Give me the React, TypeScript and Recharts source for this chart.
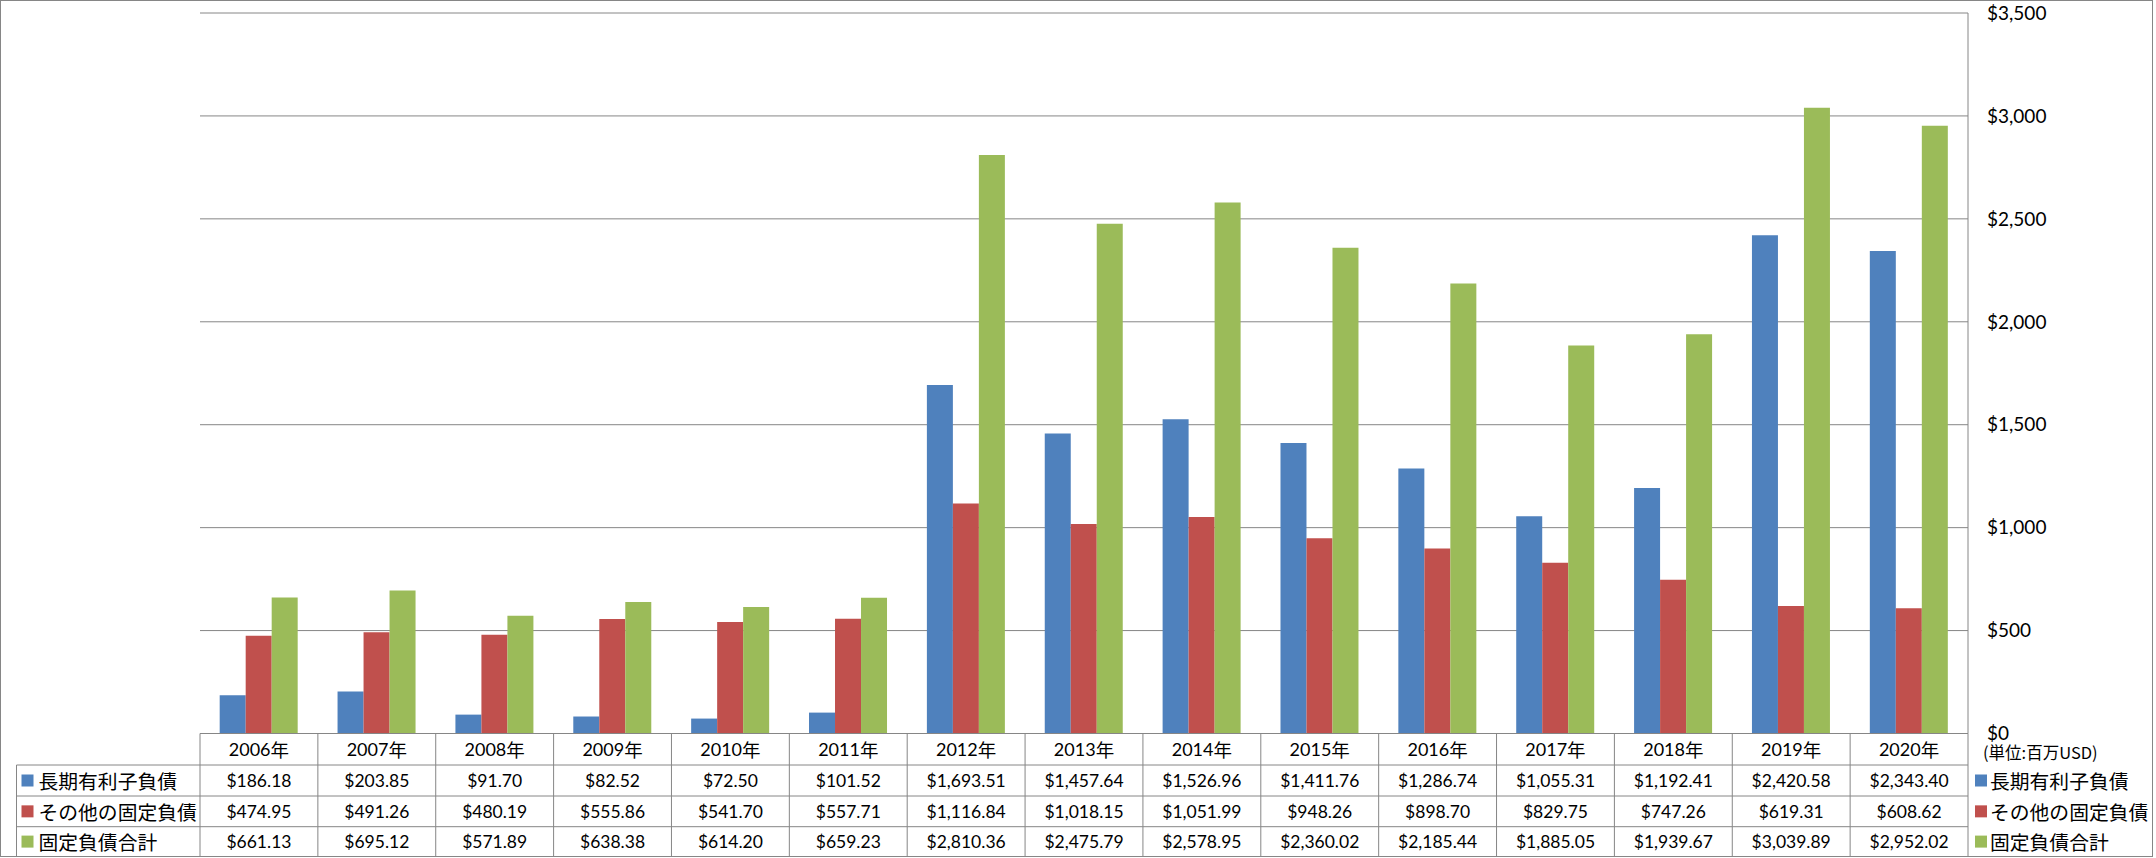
import React from 'react';
import { BarChart, Bar, XAxis, YAxis, CartesianGrid } from 'recharts';

const years = ['2006年', '2007年', '2008年', '2009年', '2010年', '2011年', '2012年', '2013年', '2014年', '2015年', '2016年', '2017年', '2018年', '2019年', '2020年'];
const longTermDebt = [186.18, 203.85, 91.70, 82.52, 72.50, 101.52, 1693.51, 1457.64, 1526.96, 1411.76, 1286.74, 1055.31, 1192.41, 2420.58, 2343.40];
const otherFixed = [474.95, 491.26, 480.19, 555.86, 541.70, 557.71, 1116.84, 1018.15, 1051.99, 948.26, 898.70, 829.75, 747.26, 619.31, 608.62];
const totalFixed = [661.13, 695.12, 571.89, 638.38, 614.20, 659.23, 2810.36, 2475.79, 2578.95, 2360.02, 2185.44, 1885.05, 1939.67, 3039.89, 2952.02];
const seriesNames = ['長期有利子負債', 'その他の固定負債', '固定負債合計'];
const seriesColors = ['#4F81BD', '#C0504D', '#9BBB59'];
const yTicks = [0, 500, 1000, 1500, 2000, 2500, 3000, 3500];
const unitLabel = '(単位:百万USD)';

const W = 2156;
const H = 858;
const PLOT_LEFT = 200;
const PLOT_RIGHT = 1968;
const PLOT_TOP = 13;
const AXIS_Y = 733.5;
const ROW_Y = [765, 796, 826.7, 856.5];
const TABLE_LEFT = 16.5;
const GRID = '#868686';
const NUM_FONT = 'Lato, "Noto Sans CJK JP", sans-serif';
const JP_FONT = '"Noto Sans CJK JP", sans-serif';

const data = years.map((y, i) => ({ year: y, a: longTermDebt[i], b: otherFixed[i], c: totalFixed[i] }));
const seriesValues = [longTermDebt, otherFixed, totalFixed];

const fmtMoney = (v: number) =>
  '$' + v.toLocaleString('en-US', { minimumFractionDigits: 2, maximumFractionDigits: 2 });
const fmtAxis = (v: number) => '$' + v.toLocaleString('en-US');

const TableTick = (props: any) => {
  const { x, payload } = props;
  const i = years.indexOf(payload.value);
  const n = years.length;
  const bw = (PLOT_RIGHT - PLOT_LEFT) / n;
  const left = x - bw / 2;
  const right = x + bw / 2;
  const rowCenters = [
    (AXIS_Y + ROW_Y[0]) / 2,
    (ROW_Y[0] + ROW_Y[1]) / 2,
    (ROW_Y[1] + ROW_Y[2]) / 2,
    (ROW_Y[2] + ROW_Y[3]) / 2,
  ];
  const yearNum = String(payload.value).replace('年', '');
  return (
    <g>
      <line x1={right} x2={right} y1={AXIS_Y} y2={ROW_Y[3]} stroke={GRID} strokeWidth={1} />
      {i === 0 && <line x1={left} x2={left} y1={AXIS_Y} y2={ROW_Y[3]} stroke={GRID} strokeWidth={1} />}
      {ROW_Y.map((ry, k) => (
        <line key={'h' + k} x1={left} x2={right} y1={ry} y2={ry} stroke={GRID} strokeWidth={1} />
      ))}
      <text x={x} y={rowCenters[0]} textAnchor="middle" dominantBaseline="central" fontFamily={NUM_FONT} fontSize={18} fill="#000">
        <tspan>{yearNum}</tspan>
        <tspan fontFamily={JP_FONT} fontSize={18.5}>年</tspan>
      </text>
      {seriesValues.map((arr, k) => (
        <text key={'v' + k} x={x} y={rowCenters[k + 1]} textAnchor="middle" dominantBaseline="central" fontFamily={NUM_FONT} fontSize={17.5} fill="#000">
          {fmtMoney(arr[i])}
        </text>
      ))}
      {i === 0 && (
        <g>
          <line x1={TABLE_LEFT} x2={TABLE_LEFT} y1={ROW_Y[0]} y2={ROW_Y[3]} stroke={GRID} strokeWidth={1} />
          {ROW_Y.map((ry, k) => (
            <line key={'lh' + k} x1={TABLE_LEFT} x2={left} y1={ry} y2={ry} stroke={GRID} strokeWidth={1} />
          ))}
          {seriesNames.map((name, k) => (
            <g key={'ln' + k}>
              <rect x={TABLE_LEFT + 5} y={rowCenters[k + 1] - 6} width={12} height={12} fill={seriesColors[k]} />
              <text x={TABLE_LEFT + 22} y={rowCenters[k + 1]} dominantBaseline="central" fontFamily={JP_FONT} fontSize={19.8} fill="#000">
                {name}
              </text>
            </g>
          ))}
        </g>
      )}
      {i === n - 1 && (
        <g>
          <text x={right + 15} y={752} dominantBaseline="central" fontFamily={JP_FONT} fontSize={16.5} fill="#000">
            {unitLabel}
          </text>
          {seriesNames.map((name, k) => (
            <g key={'rl' + k}>
              <rect x={right + 7} y={rowCenters[k + 1] - 6} width={12} height={12} fill={seriesColors[k]} />
              <text x={right + 22} y={rowCenters[k + 1]} dominantBaseline="central" fontFamily={JP_FONT} fontSize={19.8} fill="#000">
                {name}
              </text>
            </g>
          ))}
        </g>
      )}
    </g>
  );
};

export default function App() {
  return (
    <div style={{ position: 'absolute', left: 0, top: 0, width: W, height: H, background: '#fff' }}>
      <BarChart
        width={W}
        height={H}
        data={data}
        margin={{ top: PLOT_TOP, right: 0, left: PLOT_LEFT, bottom: 0 }}
        barCategoryGap="16.7%"
        barGap={0}
      >
        <CartesianGrid horizontal={true} vertical={false} stroke={GRID} strokeWidth={1} />
        <XAxis
          dataKey="year"
          axisLine={{ stroke: GRID, strokeWidth: 1 }}
          tickLine={false}
          tickSize={0}
          tickMargin={0}
          height={H - AXIS_Y}
          interval={0}
          tick={(p: any) => <TableTick {...p} />}
        />
        <YAxis
          orientation="right"
          width={W - PLOT_RIGHT}
          domain={[0, 3500]}
          ticks={yTicks}
          tickFormatter={fmtAxis}
          axisLine={{ stroke: GRID, strokeWidth: 1 }}
          tickLine={false}
          tickSize={0}
          tickMargin={19}
          tick={{ fill: '#000', fontSize: 19, fontFamily: NUM_FONT }}
          interval={0}
        />
        <Bar dataKey="a" name={seriesNames[0]} fill={seriesColors[0]} isAnimationActive={false} />
        <Bar dataKey="b" name={seriesNames[1]} fill={seriesColors[1]} isAnimationActive={false} />
        <Bar dataKey="c" name={seriesNames[2]} fill={seriesColors[2]} isAnimationActive={false} />
      </BarChart>
      <div
        style={{
          position: 'absolute',
          left: 0,
          top: 0,
          width: 2153,
          height: 857,
          border: `1px solid ${GRID}`,
          boxSizing: 'border-box',
          pointerEvents: 'none',
        }}
      />
    </div>
  );
}
